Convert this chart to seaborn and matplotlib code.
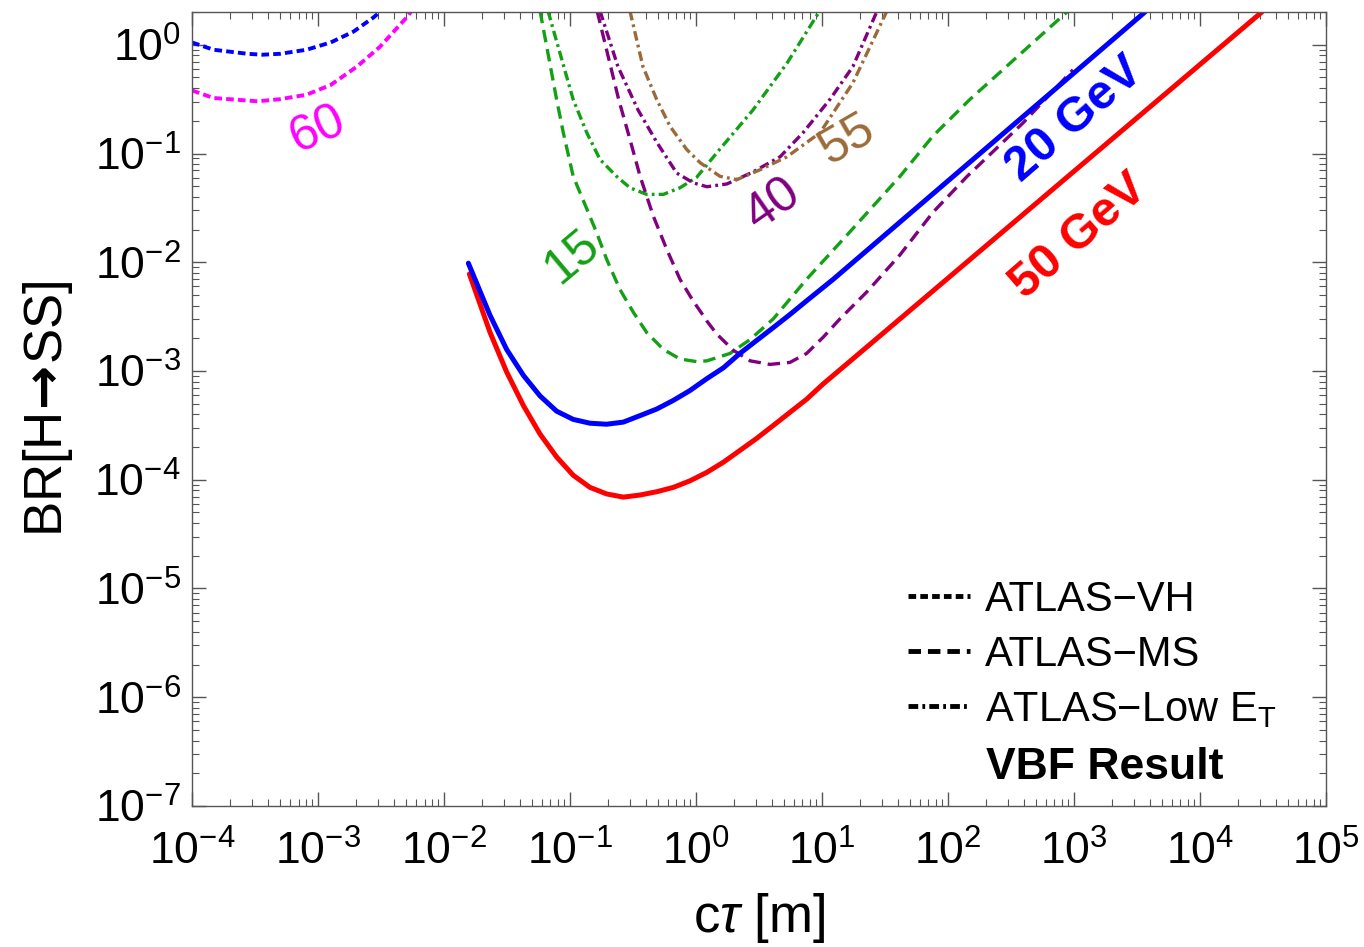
import numpy as np
import pandas as pd
import seaborn as sns
import matplotlib.pyplot as plt
from matplotlib.lines import Line2D
from matplotlib.ticker import LogLocator, NullFormatter

sns.set_style("ticks")
plt.rcParams['font.family'] = ['Liberation Sans', 'DejaVu Sans']
plt.rcParams['mathtext.fontset'] = 'custom'
plt.rcParams['mathtext.rm'] = 'Liberation Sans'
plt.rcParams['mathtext.it'] = 'Liberation Sans:italic'
plt.rcParams['mathtext.bf'] = 'Liberation Sans:bold'
plt.rcParams['mathtext.sf'] = 'DejaVu Sans:bold'
plt.rcParams['lines.scale_dashes'] = False
plt.rcParams['text.color'] = 'black'
plt.rcParams['axes.labelcolor'] = 'black'

# --- VBF result (solid) ---
vbf20_ct = [0.0156, 0.0232, 0.0314, 0.0427, 0.0578, 0.0783, 0.106, 0.144, 0.195, 0.265,
            0.360, 0.488, 0.661, 0.895, 1.22, 1.65, 2.23, 3.03, 4.11, 5.57, 7.55, 12.3,
            100, 1000, 3660]
vbf20_br = [9.8e-3, 3.24e-3, 1.58e-3, 9.1e-4, 5.9e-4, 4.27e-4, 3.59e-4, 3.31e-4, 3.24e-4, 3.39e-4,
            3.89e-4, 4.47e-4, 5.37e-4, 6.61e-4, 8.51e-4, 1.07e-3, 1.45e-3, 1.91e-3, 2.51e-3,
            3.31e-3, 4.42e-3, 6.98e-3, 0.056, 0.55, 2.0]

vbf50_ct = [0.0159, 0.0232, 0.0314, 0.0427, 0.0578, 0.0783, 0.106, 0.144, 0.195, 0.265,
            0.360, 0.488, 0.661, 0.895, 1.22, 1.65, 2.23, 3.03, 4.11, 5.57, 7.55, 10.2, 16.7,
            100, 1000, 31000]
vbf50_br = [7.8e-3, 2.26e-3, 9.8e-4, 4.8e-4, 2.63e-4, 1.62e-4, 1.10e-4, 8.51e-5, 7.41e-5, 6.92e-5,
            7.24e-5, 7.76e-5, 8.51e-5, 9.77e-5, 1.17e-4, 1.45e-4, 1.86e-4, 2.40e-4, 3.16e-4,
            4.17e-4, 5.50e-4, 7.59e-4, 1.23e-3, 7.14e-3, 0.0686, 2.0]

# --- ATLAS-VH (dotted) ---
vh20_ct = [1e-4, 1.48e-4, 2.75e-4, 3.63e-4, 5.0e-4, 8.1e-4, 1.26e-3, 1.91e-3, 2.75e-3, 3.39e-3]
vh20_br = [1.05, 0.90, 0.826, 0.81, 0.826, 0.90, 1.05, 1.32, 1.78, 2.19]

vh60_ct = [1e-4, 1.48e-4, 3.31e-4, 5.0e-4, 8.1e-4, 1.26e-3, 2.04e-3, 3.09e-3, 5.13e-3, 5.6e-3]
vh60_br = [0.38, 0.324, 0.302, 0.316, 0.347, 0.427, 0.631, 0.955, 1.82, 2.1]

# --- ATLAS-MS (dashed) ---
ms15_ct = [0.0578, 0.0783, 0.0885, 0.106, 0.136, 0.163, 0.195, 0.249, 0.318, 0.406, 0.551,
           0.746, 1.01, 1.22, 1.86, 2.69, 4.11, 7.55, 16.7, 41.6, 76.0, 150, 879]
ms15_br = [2.05, 0.313, 0.155, 0.0617, 0.0309, 0.0186, 0.0107, 5.62e-3, 3.47e-3, 2.26e-3,
           1.58e-3, 1.29e-3, 1.22e-3, 1.24e-3, 1.45e-3, 1.95e-3, 3.02e-3, 6.98e-3, 0.0191,
           0.0617, 0.145, 0.316, 2.0]

ms40_ct = [0.164, 0.243, 0.299, 0.360, 0.458, 0.585, 0.746, 0.953, 1.08, 1.22, 1.46, 1.98,
           2.69, 3.86, 5.57, 7.55, 10.2, 13.9, 22.8, 41.6, 76.0, 142, 394, 982]
ms40_br = [2.05, 0.316, 0.135, 0.0617, 0.0266, 0.0132, 6.98e-3, 4.37e-3, 3.55e-3, 2.88e-3,
           2.19e-3, 1.55e-3, 1.24e-3, 1.15e-3, 1.20e-3, 1.45e-3, 2.04e-3, 3.02e-3, 5.37e-3,
           0.0117, 0.0288, 0.0617, 0.191, 0.589]

# --- ATLAS-Low ET (dash-dot) ---
low15_ct = [0.0668, 0.106, 0.136, 0.173, 0.234, 0.299, 0.406, 0.551, 0.746, 1.01, 1.55, 2.83,
            5.27, 9.6]
low15_br = [2.05, 0.313, 0.155, 0.0881, 0.0617, 0.0484, 0.0421, 0.0421, 0.0484, 0.0603, 0.110,
            0.251, 0.676, 2.05]

low40_ct = [0.173, 0.240, 0.347, 0.490, 0.703, 0.953, 1.22, 1.76, 2.83, 4.65, 7.06, 11.6,
            17.6, 27.4]
low40_br = [2.05, 0.631, 0.251, 0.126, 0.0661, 0.0537, 0.0495, 0.0525, 0.0676, 0.0933, 0.155,
            0.316, 0.631, 2.05]

low55_ct = [0.299, 0.379, 0.488, 0.622, 0.843, 1.08, 1.55, 2.11, 3.22, 5.27, 9.64, 17.6, 32.8]
low55_br = [2.05, 0.631, 0.313, 0.178, 0.109, 0.0822, 0.0617, 0.0575, 0.0708, 0.0933, 0.155,
            0.447, 2.05]

BLUE, RED, GREEN, PURPLE, BROWN, MAGENTA = '#0000ff', '#ff0000', '#14a014', '#800080', '#9c6a3a', '#ff00ff'
DOT = (0, (5.5, 3.0))
DASH = (0, (9.0, 5.0))
DASHDOT = (0, (7.0, 3.0, 2.0, 3.0))

fig, ax = plt.subplots(figsize=(13.64, 9.47), dpi=100)
fig.subplots_adjust(left=0.1408, right=0.9721, bottom=0.1489, top=0.9873)
ax.set_xscale('log')
ax.set_yscale('log')

curves = [
    (vh20_ct, vh20_br, BLUE, DOT, 2.8),
    (vh60_ct, vh60_br, MAGENTA, DOT, 2.8),
    (ms15_ct, ms15_br, GREEN, DASH, 2.4),
    (low15_ct, low15_br, GREEN, DASHDOT, 2.4),
    (ms40_ct, ms40_br, PURPLE, DASH, 2.4),
    (low40_ct, low40_br, PURPLE, DASHDOT, 2.4),
    (low55_ct, low55_br, BROWN, DASHDOT, 2.4),
    (vbf50_ct, vbf50_br, RED, '-', 3.6),
    (vbf20_ct, vbf20_br, BLUE, '-', 3.6),
]
for ct, br, col, ls, lw in curves:
    sns.lineplot(x=ct, y=br, ax=ax, color=col, linestyle=ls, lw=lw, sort=False, estimator=None)

ax.set_xlim(1e-4, 1e5)
ax.set_ylim(1e-7, 2.0)
ax.set_xticks([10.0 ** k for k in range(-4, 6)])
ax.set_yticks([10.0 ** k for k in range(-7, 1)])
ax.xaxis.set_minor_locator(LogLocator(base=10, subs=np.arange(2, 10), numticks=100))
ax.yaxis.set_minor_locator(LogLocator(base=10, subs=np.arange(2, 10), numticks=100))
ax.xaxis.set_minor_formatter(NullFormatter())
ax.yaxis.set_minor_formatter(NullFormatter())
ax.tick_params(which='both', direction='in', top=True, right=True, color='#555555',
               labelcolor='black')
ax.tick_params(which='major', length=10, width=1.0, labelsize=32)
ax.tick_params(axis='x', which='major', pad=18)
ax.tick_params(axis='y', which='major', pad=8)
ax.tick_params(which='minor', length=5, width=0.8)
for sp in ax.spines.values():
    sp.set_color('#555555')
    sp.set_linewidth(1.0)

ax.set_xlabel(r"c$\tau$ [m]", fontsize=38, labelpad=12)
ax.set_ylabel(r"BR[H$\!\mathsf{\rightarrow}\!$SS]", fontsize=38, labelpad=14)

# curve labels
ax.text(1e-3, 0.166, "60", color=MAGENTA, fontsize=36, rotation=24, ha='center', va='center')
ax.text(0.104, 0.0112, "15", color=GREEN, fontsize=36, rotation=40, ha='center', va='center')
ax.text(4.08, 0.034, "40", color=PURPLE, fontsize=36, rotation=35, ha='center', va='center')
ax.text(16.1, 0.135, "55", color=BROWN, fontsize=36, rotation=30, ha='center', va='center')
ax.text(1019, 0.205, "20 GeV", color=BLUE, fontsize=35, fontweight='bold', rotation=41,
        ha='center', va='center')
ax.text(1100, 0.0174, "50 GeV", color=RED, fontsize=35, fontweight='bold', rotation=41,
        ha='center', va='center')

handles = [Line2D([], [], color='k', lw=3.5, linestyle=DOT),
           Line2D([], [], color='k', lw=3.5, linestyle=DASH),
           Line2D([], [], color='k', lw=3.5, linestyle=DASHDOT)]
labels = ["ATLAS−VH", "ATLAS−MS", r"ATLAS−Low E$_\mathrm{T}$"]
ax.legend(handles, labels, loc='upper left', bbox_to_anchor=(0.631, 0.285), frameon=False,
          fontsize=30, handlelength=1.5, handletextpad=0.36, labelspacing=0.36,
          borderaxespad=0, borderpad=0)
ax.text(0.805, 0.048, "VBF Result", transform=ax.transAxes, fontsize=32, fontweight='bold',
        ha='center', va='center')

fig.savefig("out.png", dpi=100)
